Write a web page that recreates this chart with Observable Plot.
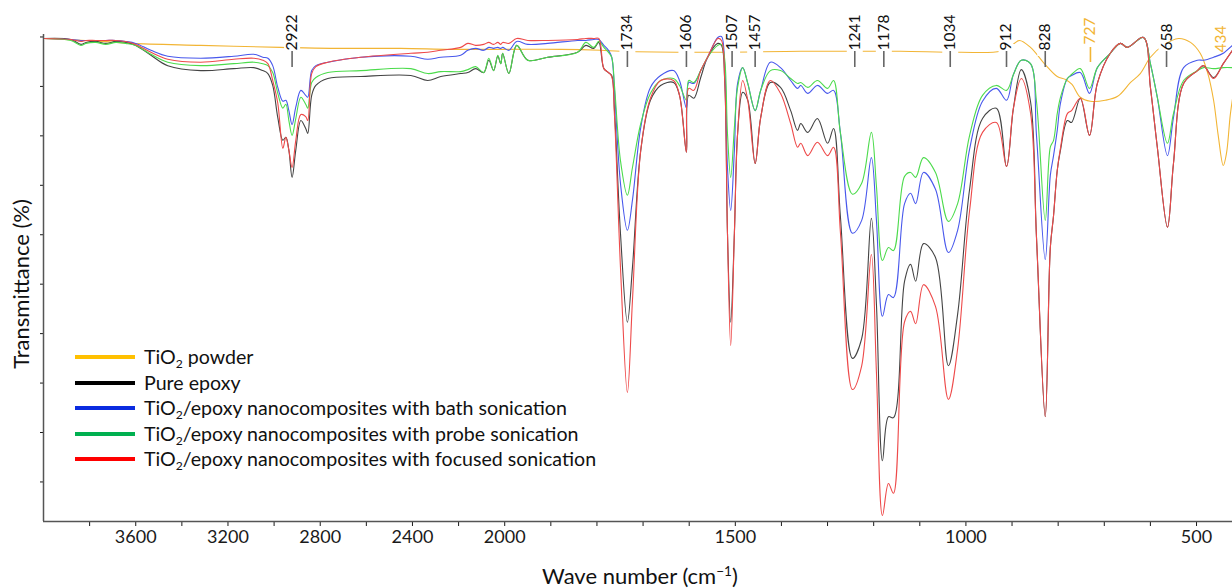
<!DOCTYPE html>
<html>
<head>
<meta charset="utf-8">
<script src="https://cdn.jsdelivr.net/npm/d3@7"></script>
<script src="https://cdn.jsdelivr.net/npm/@observablehq/plot@0.6"></script>
<style>
  body { margin: 0; background: #fff; }
  #wrap { position: relative; width: 1232px; height: 588px; font-family: Lato, "Open Sans", sans-serif; color: #111; overflow: hidden; }
  #wrap svg { position: absolute; left: 0; top: 0; }
  .bar { position: absolute; left: 75px; width: 60px; height: 4px; }
  .lt { position: absolute; left: 144px; font-size: 19.6px; line-height: 24px; white-space: nowrap; }
  .lt sub { font-size: 0.62em; vertical-align: -0.3em; line-height: 0; }
  #xt { position: absolute; left: 640px; top: 562px; transform: translateX(-50%); font-size: 22px; white-space: nowrap; }
  #xt sup { font-size: 0.62em; vertical-align: 0.6em; line-height: 0; }
</style>
</head>
<body>
<div id="wrap"></div>
<script>
// ---- data (wave number in cm^-1, transmittance in arbitrary %) ----
const wavenumbers = [
  4000,3881,3838,3816,3773,3730,3686,3643,3600,3534,
  3461,3318,3175,3088,3049,3027,3006,2984,2962,2949,
  2936,2922,2906,2884,2863,2854,2837,2819,2767,2624,
  2407,2334,2277,2191,2160,2126,2091,2069,2048,2030,
  2017,2009,1991,1974,1950,1907,1842,1824,1807,1796,
  1785,1775,1768,1762,1749,1734,1723,1705,1684,1662,
  1634,1621,1606,1601,1590,1575,1560,1538,1530,1523,
  1517,1510,1502,1495,1484,1473,1457,1445,1424,1402,
  1380,1365,1358,1343,1322,1300,1287,1272,1246,1226,
  1205,1194,1181,1168,1157,1133,1120,1109,1092,1066,
  1038,1018,992,964,934,912,897,880,860,847,
  828,817,810,802,795,780,771,752,732,715,
  687,665,650,615,600,585,563,550,528,498,485,463,442,422
];
const pureEpoxy = [
  99.7,99.5,98.5,98.9,99.1,98.7,99.1,98.9,98.3,96.3,
  94.2,93.2,93.6,93.8,93.2,92.6,90.2,83.7,79.1,79.7,
  77.1,71.6,77.1,83.1,81.5,80.5,88.2,90.2,91.6,92.0,
  92.2,91.2,92.0,92.6,92.8,93.6,92.8,95.3,93.2,96.1,
  94.6,96.7,92.6,98.3,95.3,95.9,96.9,98.3,97.7,98.9,
  93.6,92.8,92.2,85.1,60.3,42.3,53.4,77.1,87.2,90.2,
  90.8,88.2,76.7,88.2,87.6,91.8,95.9,98.7,98.3,91.2,
  60.3,42.3,60.3,80.5,88.8,87.2,74.4,83.7,90.8,89.8,
  85.1,81.1,82.5,80.7,83.5,78.5,81.5,63.5,35.0,39.0,
  63.3,45.9,14.3,23.2,23.0,50.6,54.0,50.6,58.2,55.4,
  33.5,43.9,69.2,83.5,85.6,73.8,85.6,93.4,87.0,59.5,
  23.2,57.4,63.9,73.0,77.1,83.1,82.7,87.6,80.1,90.6,
  96.7,98.7,97.9,99.9,89.8,77.7,61.5,74.4,90.6,93.2,94.2,91.8,94.6,97.3
];
const bathSonication = [
  99.7,99.5,99.3,99.3,99.3,99.3,99.3,99.1,98.7,97.3,
  96.1,95.7,96.1,96.5,95.9,95.7,94.2,89.8,87.0,87.2,
  85.1,82.3,85.8,89.2,88.2,87.8,93.2,94.2,94.9,95.9,
  96.1,95.5,95.9,96.3,97.3,97.7,97.3,97.9,97.7,97.9,
  97.7,97.9,97.3,99.1,98.5,98.7,99.3,99.3,99.5,99.5,
  98.3,97.3,95.9,89.2,70.4,60.9,67.0,81.7,89.8,92.2,
  93.2,91.2,85.6,90.8,90.6,93.2,95.9,99.9,100.1,94.2,
  73.6,64.9,77.1,90.6,93.8,90.6,85.1,89.2,94.9,93.8,
  91.2,89.6,90.2,88.6,90.2,88.6,89.2,80.5,60.3,62.9,
  75.6,62.9,43.5,47.9,47.3,66.3,68.4,66.3,72.6,69.2,
  56.4,60.9,77.3,87.0,89.6,87.2,92.4,95.3,94.6,80.1,
  55.0,72.0,76.0,81.1,86.6,91.6,92.2,92.8,88.6,93.8,
  96.7,98.7,97.9,99.9,94.6,87.8,76.0,83.7,93.8,95.3,95.3,95.9,96.7,98.3
];
const probeSonication = [
  99.7,99.3,98.3,98.7,98.9,98.5,98.9,98.7,98.3,96.5,
  94.9,94.2,94.6,94.9,94.6,94.2,92.8,88.6,85.6,86.4,
  83.1,80.1,83.5,87.8,86.4,85.6,90.8,91.8,92.8,93.2,
  93.6,92.6,93.0,93.0,93.4,94.0,92.8,95.7,93.2,96.3,
  94.6,96.7,92.6,98.3,95.3,95.9,96.9,98.9,97.9,99.1,
  97.9,96.9,95.9,90.2,75.0,68.0,73.6,82.5,88.6,91.2,
  91.6,90.2,87.2,91.2,90.8,93.2,95.9,98.3,98.5,95.5,
  80.5,71.6,81.7,89.8,93.8,90.6,85.1,89.2,93.2,93.2,
  91.6,90.6,90.8,89.8,91.2,89.6,91.2,80.5,68.2,70.4,
  80.7,69.8,54.8,57.4,56.8,71.8,72.6,71.6,75.6,72.6,
  62.7,66.3,80.1,88.2,90.2,89.2,92.4,95.3,94.6,87.0,
  62.9,77.7,79.1,84.5,87.8,91.6,92.4,93.6,89.6,93.8,
  96.7,98.7,97.9,99.9,94.6,87.8,78.5,84.5,91.2,93.2,93.8,93.6,93.8,93.8
];
const focusedSonication = [
  99.7,99.5,99.1,99.3,99.3,99.3,99.3,99.1,98.5,96.9,
  95.5,94.9,95.5,95.7,95.3,94.6,91.2,86.6,77.5,79.7,
  77.1,73.6,79.1,84.3,83.9,83.1,92.6,94.0,94.9,95.9,
  96.7,96.9,97.3,97.9,98.7,98.3,98.5,98.9,98.5,98.9,
  98.5,98.9,98.7,99.7,99.3,99.3,99.5,99.7,99.7,99.7,
  93.6,92.8,92.0,84.1,53.4,28.1,46.7,77.1,87.6,91.2,
  91.2,88.2,76.7,89.6,89.2,93.2,95.9,99.7,99.3,91.2,
  60.3,37.6,60.3,80.5,91.2,87.2,74.4,83.7,91.2,88.6,
  82.5,77.7,78.5,76.0,78.7,76.0,77.7,60.3,28.7,33.5,
  56.0,32.1,3.2,9.7,7.7,42.4,44.5,42.0,49.9,45.5,
  26.7,36.9,64.9,80.7,82.7,73.8,85.6,91.6,84.7,59.5,
  23.2,57.4,63.9,73.0,77.5,84.5,85.1,87.6,80.1,90.6,
  96.7,98.7,97.9,99.9,89.8,77.7,61.5,74.4,90.6,93.2,94.2,91.6,94.6,97.3
];
const tio2Wavenumbers = [
  4000,3751,3621,3318,2971,2754,2451,2234,2000,1879,
  1792,1749,1575,1358,1250,1142,1012,925,903,884,
  860,828,802,784,770,752,730,698,671,643,
  622,600,572,539,513,492,476,463,453,442,
  435,427,422
];
const tio2Powder = [
  99.7,99.1,98.7,98.3,97.9,97.7,97.7,97.5,97.5,97.5,
  97.3,97.1,96.9,97.1,97.1,97.1,96.9,97.1,98.1,99.3,
  97.9,94.4,92.0,91.4,90.4,87.8,87.0,87.2,88.0,90.8,
  92.6,95.9,98.3,99.7,98.9,96.7,92.8,87.2,80.1,74.0,
  76.5,84.1,87.5
];
const peakLabels    = ["2922","1734","1606","1507","1457","1241","1178","1034","912","828","727","658","434"];
const peakPositions = [2922, 1734, 1606, 1507, 1457, 1241, 1178, 1034, 912, 828, 730, 565, 447];
const peakIsTiO2    = [false,false,false,false,false,false,false,false,false,false,true,false,true];
const xTickLabels = [3600, 3200, 2800, 2400, 2000, 1500, 1000, 500];
const xMinorTicks = [3800, 3400, 3000, 2600, 2200, 1900, 1800, 1700, 1600, 1400, 1300, 1200, 1100, 900, 800, 700, 600];
const yTicks = [10, 20, 30, 40, 50, 60, 70, 80, 90, 100];
const seriesNames = [
  "TiO2 powder",
  "Pure epoxy",
  "TiO2/epoxy nanocomposites with bath sonication",
  "TiO2/epoxy nanocomposites with probe sonication",
  "TiO2/epoxy nanocomposites with focused sonication"
];
const legendColors = ["#FFC000", "#000000", "#0A2BE0", "#00B050", "#FF0000"];
const curveColors  = ["#F2B535", "#444444", "#4858EC", "#4CDB4C", "#EE4A4A"];

// ---- axis break: region above 2000 cm-1 is compressed by a factor 2 ----
const toU = w => (w <= 2000 ? w : 2000 + (w - 2000) / 2);
const fromU = u => (u <= 2000 ? u : 2000 + (u - 2000) * 2);

const epoxySeries = [pureEpoxy, bathSonication, probeSonication, focusedSonication];
const epoxyRows = epoxySeries.map(vals => wavenumbers.map((w, i) => ({u: toU(w), v: vals[i]})));
const tio2Rows = tio2Wavenumbers.map((w, i) => ({u: toU(w), v: tio2Powder[i]}));
const peaks = peakLabels.map((t, i) => ({u: toU(peakPositions[i]), t, tio2: peakIsTiO2[i]}));
const peaksBlack = peaks.filter(d => !d.tio2);
const peak727 = peaks.filter(d => d.t === "727");
const peak434 = peaks.filter(d => d.t === "434");

const labeledSet = new Set(xTickLabels);
const allTicks = [...xTickLabels, ...xMinorTicks].map(toU);

const H = 560, MT = 34, MB = 39;
const inset = (top, bottom) => ({insetTop: top - MT, insetBottom: (H - MB) - bottom});

const lineOpts = (c) => ({x: "u", y: "v", stroke: c, strokeWidth: 1.1, curve: "catmull-rom"});

const chart = Plot.plot({
  width: 1232,
  height: H,
  marginLeft: 43,
  marginRight: 0,
  marginTop: MT,
  marginBottom: MB,
  style: {fontFamily: "Lato, 'Open Sans', sans-serif", fontSize: "18px", color: "#1a1a1a", background: "#fff", overflow: "visible"},
  x: {
    domain: [toU(4000), toU(422)],
    ticks: allTicks,
    tickFormat: u => { const w = Math.round(fromU(u)); return labeledSet.has(w) ? String(w) : ""; },
    tickSize: 5,
    tickPadding: 4,
    label: null
  },
  y: {
    domain: [2, 100.5],
    ticks: yTicks,
    tickFormat: () => "",
    tickSize: 3,
    label: null
  },
  marks: [
    Plot.line(tio2Rows, lineOpts(curveColors[0])),
    Plot.ruleX(peaksBlack, {x: "u", stroke: "#fff", strokeWidth: 16, ...inset(44, 56)}),
    Plot.line(epoxyRows[0], lineOpts(curveColors[1])),
    Plot.line(epoxyRows[1], lineOpts(curveColors[2])),
    Plot.line(epoxyRows[2], lineOpts(curveColors[3])),
    Plot.line(epoxyRows[3], lineOpts(curveColors[4])),
    Plot.ruleX(peaksBlack, {x: "u", stroke: "#666", strokeWidth: 1.6, ...inset(51, 67)}),
    Plot.ruleX(peak727, {x: "u", stroke: "#F2B535", strokeWidth: 1.6, ...inset(47, 62)}),
    Plot.text(peaksBlack, {x: "u", text: "t", frameAnchor: "top", dy: 16, rotate: -90, textAnchor: "start", lineAnchor: "middle", fontSize: 15.5, fill: "#111"}),
    Plot.text(peak727, {x: "u", text: "t", frameAnchor: "top", dy: 10, rotate: -90, textAnchor: "start", lineAnchor: "middle", fontSize: 15.5, fill: "#F2B535"}),
    Plot.text(peak434, {x: "u", text: "t", frameAnchor: "top", dy: 18, rotate: -90, textAnchor: "start", lineAnchor: "middle", fontSize: 15.5, fill: "#F2B535"}),
    Plot.ruleX([toU(4000)], {stroke: "#555", strokeWidth: 1.5}),
    Plot.ruleY([2], {stroke: "#555", strokeWidth: 1.5}),
    Plot.text(["Transmittance (%)"], {frameAnchor: "left", text: d => d, rotate: -90, dx: -22, dy: 6, fontSize: 22, textAnchor: "middle", lineAnchor: "middle", fill: "#111"})
  ]
});

const wrap = document.getElementById("wrap");
wrap.appendChild(chart);

// legend (inside the plot area, lower left)
const rowY = [357, 382.5, 408, 433.5, 459];
seriesNames.forEach((name, i) => {
  const bar = document.createElement("div");
  bar.className = "bar";
  bar.style.top = (rowY[i] - 2) + "px";
  bar.style.background = legendColors[i];
  wrap.appendChild(bar);
  const t = document.createElement("div");
  t.className = "lt";
  t.style.top = (rowY[i] - 12) + "px";
  t.innerHTML = name.replace("TiO2", "TiO<sub>2</sub>");
  wrap.appendChild(t);
});

const xt = document.createElement("div");
xt.id = "xt";
xt.innerHTML = "Wave number (cm<sup>\u22121</sup>)";
wrap.appendChild(xt);
</script>
</body>
</html>
